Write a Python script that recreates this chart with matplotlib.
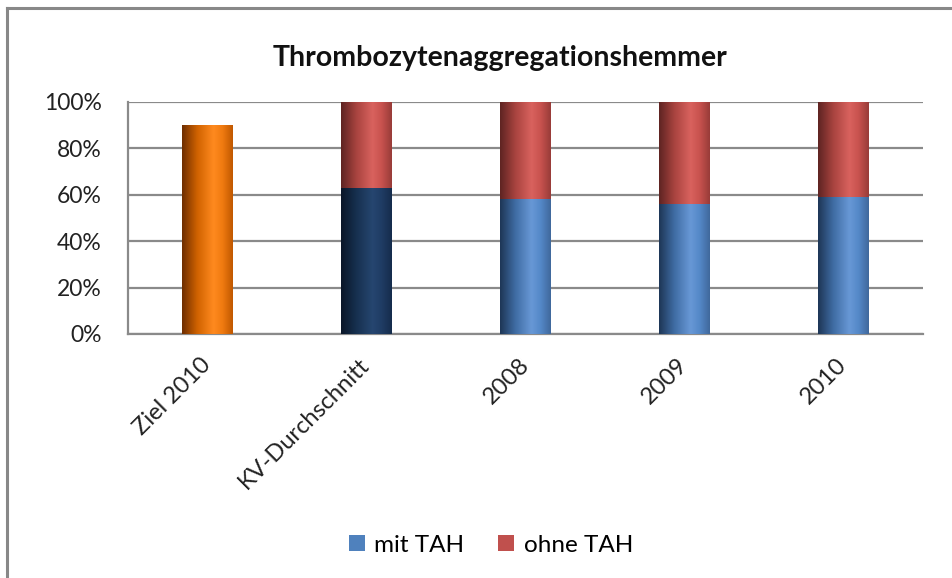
import matplotlib
matplotlib.use("Agg")
import matplotlib.pyplot as plt
import numpy as np
from matplotlib.colors import LinearSegmentedColormap
from matplotlib.patches import Patch
from matplotlib.lines import Line2D
import matplotlib.transforms as mtrans

plt.rcParams['font.family'] = ['Lato', 'DejaVu Sans']

categories = ["Ziel 2010", "KV-Durchschnitt", "2008", "2009", "2010"]
mit_tah = [0.90, 0.63, 0.58, 0.56, 0.59]
ohne_tah = [0.00, 0.37, 0.42, 0.44, 0.41]
yticks = [0, 0.2, 0.4, 0.6, 0.8, 1.0]
ytick_labels = ["0%", "20%", "40%", "60%", "80%", "100%"]
title = "Thrombozytenaggregationshemmer"
series_names = ["mit TAH", "ohne TAH"]

blue = "#4F81BD"
red = "#C0504D"

# gradient palettes (left dark, light highlight, right shade)
grad = {
    "blue": ["#1E3656", "#3F6CA3", "#6898D6", "#5488C8", "#40689C"],
    "red": ["#5E2422", "#A8433F", "#D9625E", "#C8524E", "#983C39"],
    "orange": ["#6E2E00", "#D06200", "#FF8A1F", "#F07A10", "#C05800"],
    "navy": ["#0A1628", "#16304F", "#264670", "#1F3C64", "#152C4C"],
}
mit_colors = ["orange", "navy", "blue", "blue", "blue"]

fig = plt.figure(figsize=(9.53, 5.78), dpi=100)
ax = fig.add_axes([128/953, 1-334/578, (923-128)/953, (334-102)/578])

x = np.arange(len(categories))
width = 0.315
b1 = ax.bar(x, mit_tah, width, color=[blue]*len(x), zorder=3, label=series_names[0])
b2 = ax.bar(x, ohne_tah, width, bottom=mit_tah, color=red, zorder=3, label=series_names[1])

def shade(bars, keys):
    for patch, key in zip(bars, keys):
        h = patch.get_height()
        if h <= 0:
            continue
        x0 = patch.get_x(); w = patch.get_width(); y0 = patch.get_y()
        cmap = LinearSegmentedColormap.from_list(
            key, list(zip([0, 0.3, 0.62, 0.8, 1.0], grad[key])))
        im = ax.imshow(np.linspace(0, 1, 200).reshape(1, -1), cmap=cmap,
                       extent=(x0, x0 + w, y0, y0 + h), aspect='auto',
                       zorder=4, interpolation='bicubic')
        im.set_clip_path(patch)

shade(b1, mit_colors)
shade(b2, ["red"] * len(x))

ax.set_xlim(-0.5, len(categories) - 0.5)
ax.set_ylim(0, 1.0)
ax.set_yticks(yticks)
ax.set_yticklabels(ytick_labels, fontsize=16.5, color="#222222")
ax.set_xticks(x)
ax.set_xticklabels(categories, fontsize=17, color="#222222", rotation=45,
                   ha='right', va='center', rotation_mode='anchor')
offset = mtrans.ScaledTranslation(7/100, 0, fig.dpi_scale_trans)
for lab in ax.get_xticklabels():
    lab.set_transform(lab.get_transform() + offset)
ax.tick_params(axis='y', length=0, pad=19)
ax.tick_params(axis='x', length=0, pad=20)
ax.grid(axis='y', color="#8A8A8A", linewidth=1.6, zorder=1)
ax.set_axisbelow(True)
for s in ["top", "right"]:
    ax.spines[s].set_visible(False)
ax.spines["left"].set_color("#8A8A8A")
ax.spines["left"].set_linewidth(1.6)
ax.spines["bottom"].set_color("#8A8A8A")
ax.spines["bottom"].set_linewidth(1.6)

fig.text(500/953, 1-58/578, title, ha='center', va='center',
         fontsize=20.5, fontweight='bold', color="#111111")

handles = [Patch(facecolor=blue, edgecolor='none'), Patch(facecolor=red, edgecolor='none')]
fig.legend(handles, series_names, loc='center', bbox_to_anchor=(491/953, 1-545/578),
           ncol=2, frameon=False, fontsize=17.5, handlelength=0.65, handleheight=0.65,
           handletextpad=0.4, columnspacing=1.4)

# outer chart frame (top and left edges visible)
fig.add_artist(Line2D([7/953, 1.0], [1-8/578, 1-8/578], color="#888888", linewidth=2.2))
fig.add_artist(Line2D([7/953, 7/953], [0, 1-8/578], color="#888888", linewidth=2.2))

fig.savefig("out.png", dpi=100)
